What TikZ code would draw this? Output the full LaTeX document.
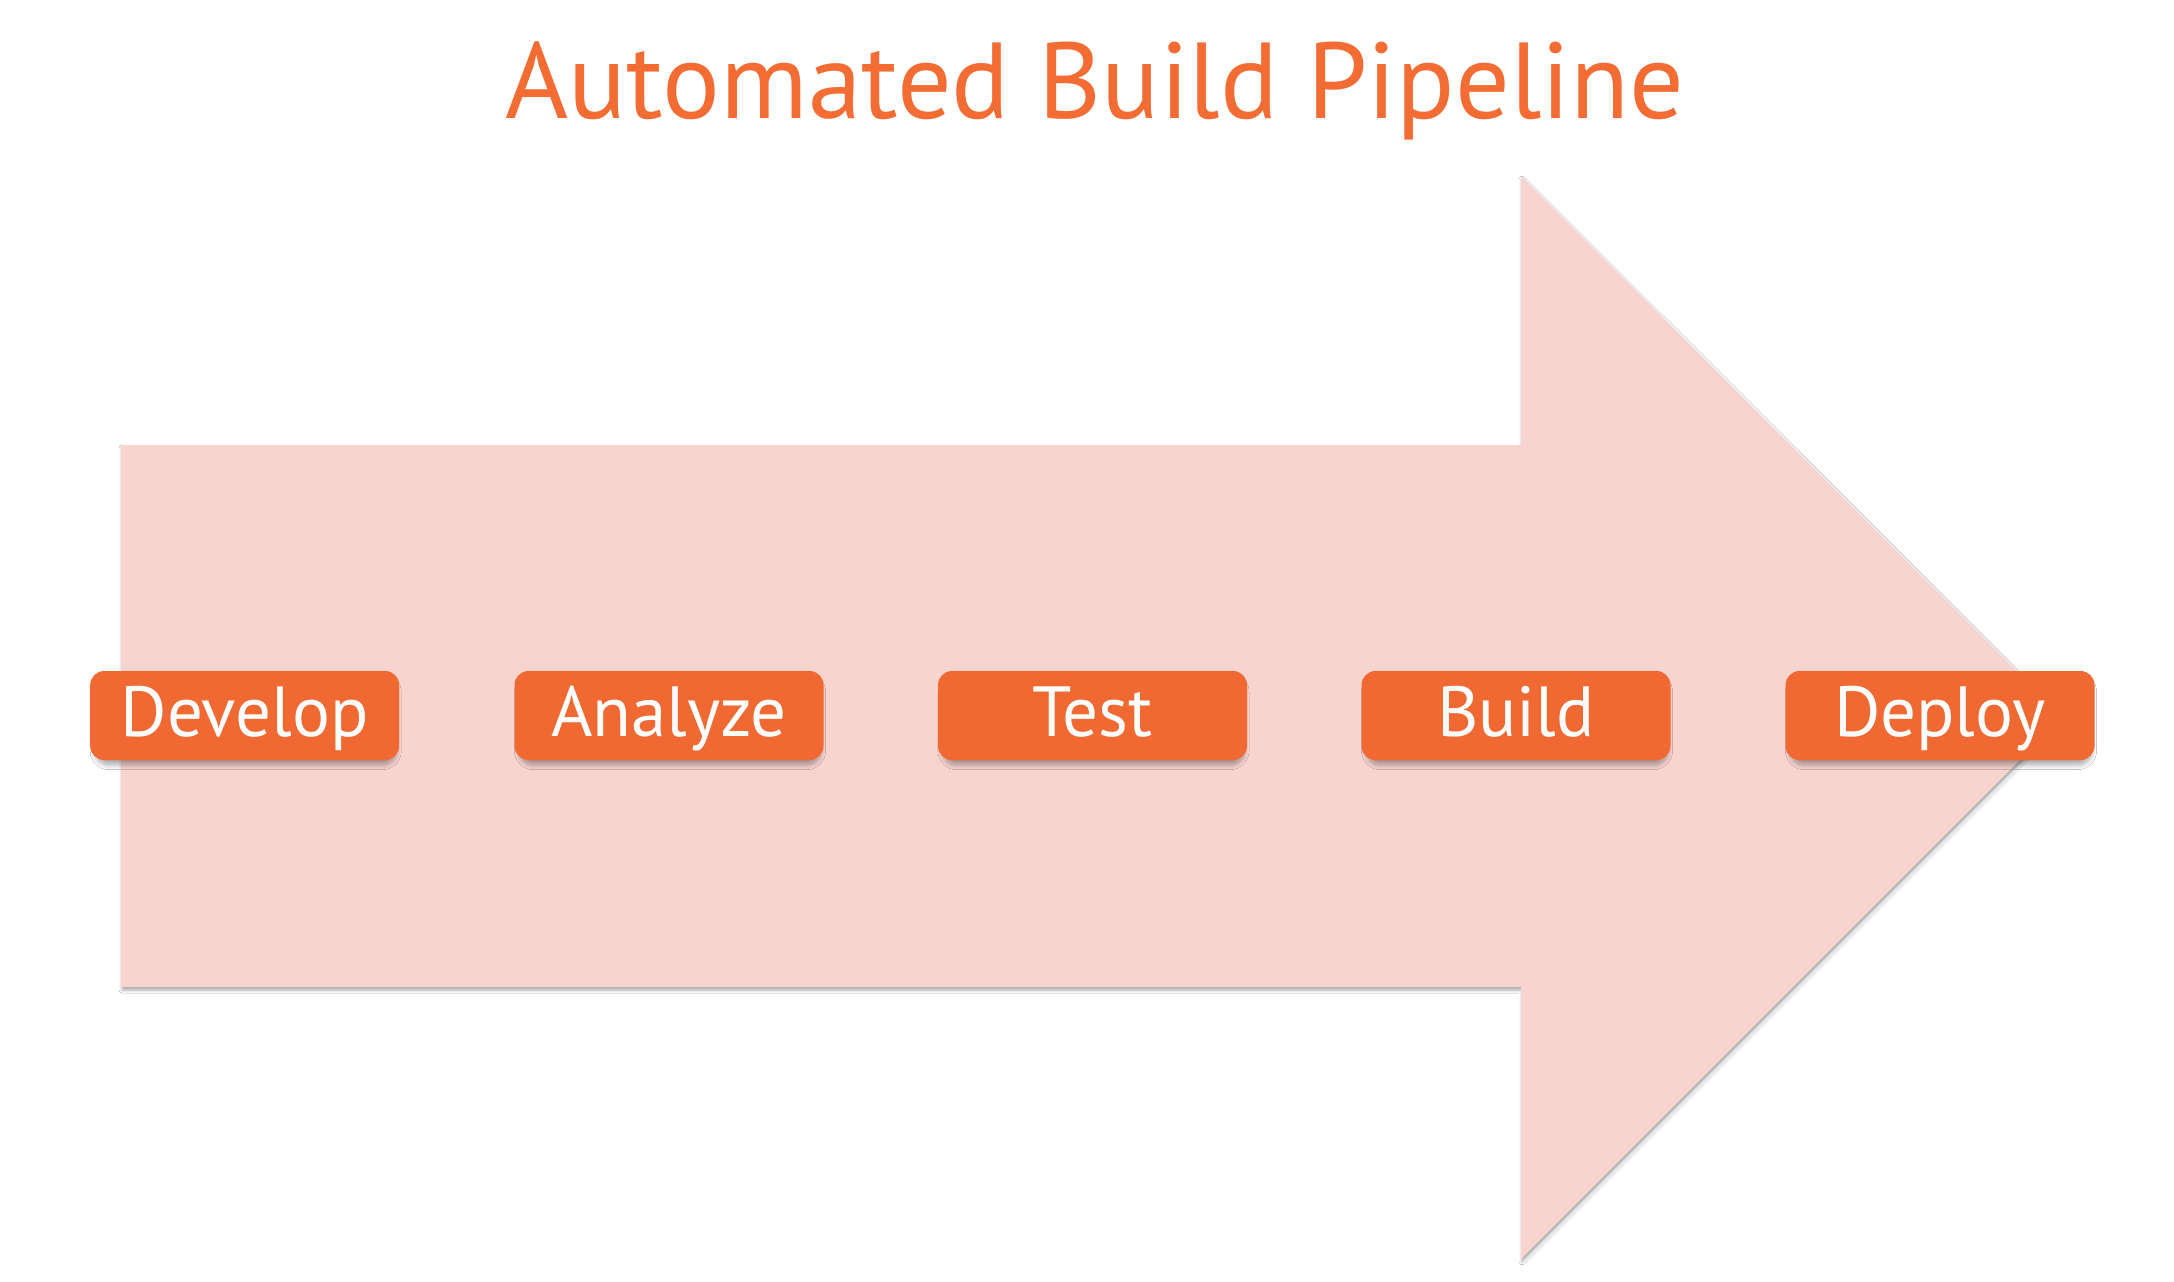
\documentclass[tikz,border=0pt]{standalone}
\usepackage{fontspec}
\setmainfont{PT Sans}
\usetikzlibrary{shadows.blur}
\definecolor{pipeorange}{RGB}{240,105,50}
\definecolor{titleorange}{RGB}{242,108,51}
\definecolor{arrowpink}{RGB}{247,212,207}
\tikzset{
  stagebox/.style={draw=none, fill=pipeorange, rounded corners=14pt,
    minimum width=309pt, minimum height=89pt, inner sep=0pt,
    text=white, font=\fontsize{71}{80}\selectfont,
    text height=50pt, text depth=9pt,
    blur shadow={shadow xshift=1pt, shadow yshift=-6pt, shadow scale=0.975,
      shadow blur radius=5pt, shadow blur steps=10, shadow opacity=35}},
  bigarrow/.style={fill=arrowpink, draw=none,
    blur shadow={shadow xshift=1pt, shadow yshift=-3pt, shadow blur radius=3pt, shadow opacity=35}}
}
\begin{document}
\begin{tikzpicture}[x=1pt,y=-1pt]
\useasboundingbox (0,0) rectangle (2174,1282);
\fill[white] (0,0) rectangle (2174,1282);
% arrow coordinates
\coordinate (s1) at (121,445);
\coordinate (s2) at (1521,445);
\coordinate (h1) at (1521,176);
\coordinate (tip) at (2063,717);
\coordinate (h2) at (1521,1259);
\coordinate (s3) at (1521,987);
\coordinate (s4) at (121,987);
\path[bigarrow] (s1) -- (s2) -- (h1) -- (tip) -- (h2) -- (s3) -- (s4) -- cycle;
% title
\node[anchor=base, text=titleorange, font=\fontsize{108}{120}\selectfont, inner sep=0pt] (title) at (1095,118) {Automated Build Pipeline};
% stages
\node[stagebox] (develop) at (244.7,715.5) {Develop};
\node[stagebox] (analyze) at (669,715.5) {Analyze};
\node[stagebox] (test) at (1092.5,715.5) {Test};
\node[stagebox] (build) at (1516,715.5) {Build};
\node[stagebox] (deploy) at (1940,715.5) {Deploy};
\end{tikzpicture}
\end{document}
